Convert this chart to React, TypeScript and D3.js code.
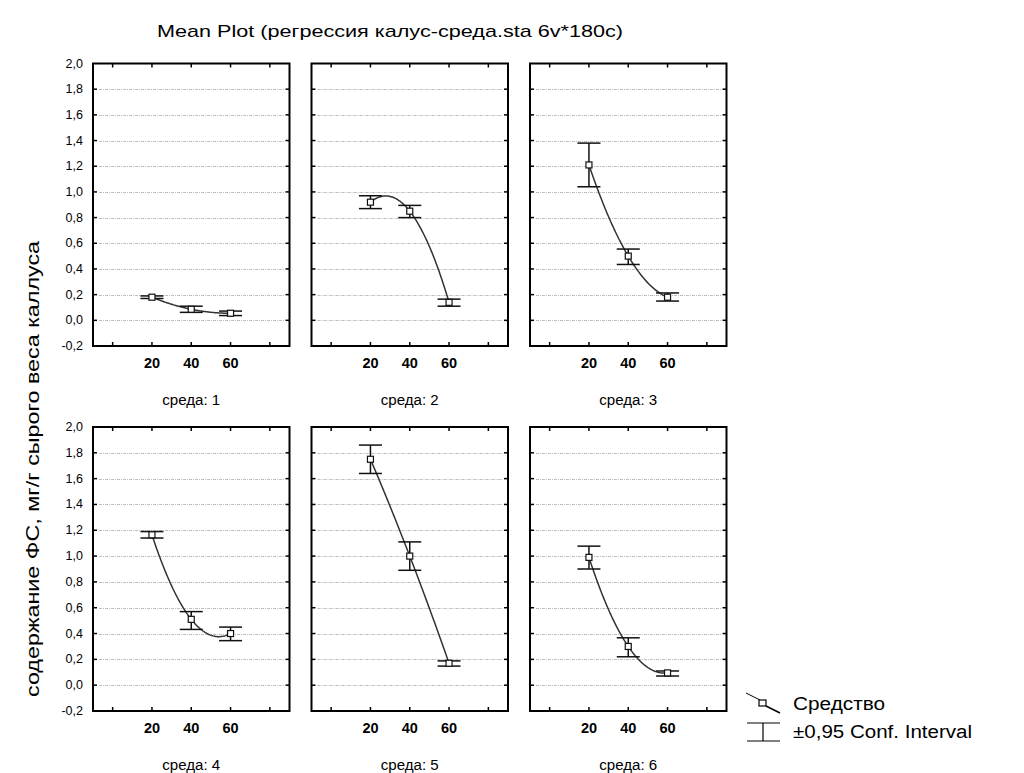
import React from "react";
import * as d3 from "d3";

const title = "Mean Plot (регрессия калус-среда.sta 6v*180c)";
const yTitle = "содержание ФС, мг/г сырого веса каллуса";
const panelLabels = ["среда: 1", "среда: 2", "среда: 3", "среда: 4", "среда: 5", "среда: 6"];
const xLevels = [20, 40, 60];
const xTicks = [0, 20, 40, 60, 80];
const xTickLabels = ["", "20", "40", "60", ""];
const yTicks = [-0.2, 0, 0.2, 0.4, 0.6, 0.8, 1.0, 1.2, 1.4, 1.6, 1.8, 2.0];
const means = [
  [0.18, 0.086, 0.055],
  [0.92, 0.85, 0.14],
  [1.21, 0.5, 0.18],
  [1.165, 0.51, 0.4],
  [1.75, 1.0, 0.17],
  [0.99, 0.3, 0.095],
];
const ciLow = [
  [0.17, 0.062, 0.037],
  [0.87, 0.8, 0.11],
  [1.04, 0.435, 0.15],
  [1.14, 0.432, 0.345],
  [1.64, 0.89, 0.148],
  [0.9, 0.22, 0.071],
];
const ciHigh = [
  [0.19, 0.11, 0.072],
  [0.97, 0.895, 0.165],
  [1.38, 0.555, 0.213],
  [1.19, 0.57, 0.45],
  [1.86, 1.11, 0.188],
  [1.077, 0.367, 0.11],
];
const legendLabels = ["Средство", "±0,95 Conf. Interval"];

const colX = [93, 311.5, 530];
const panelW = 196.5;
const rowY = [63.5, 427];
const rowH = [282.5, 284];
const FONT = "'Liberation Sans', Arial, sans-serif";

// quadratic (polynomial) fit through the three means, as in the original plot
function quadFit(xs: number[], ys: number[]) {
  return (x: number) => {
    let s = 0;
    for (let i = 0; i < xs.length; i++) {
      let t = ys[i];
      for (let j = 0; j < xs.length; j++) if (j !== i) t *= (x - xs[j]) / (xs[i] - xs[j]);
      s += t;
    }
    return s;
  };
}

function Panel({ idx }: { idx: number }) {
  const col = idx % 3;
  const row = Math.floor(idx / 3);
  const x0 = colX[col];
  const y0 = rowY[row];
  const h = rowH[row];
  const x = d3.scaleLinear().domain([-10, 90]).range([x0, x0 + panelW]);
  const y = d3.scaleLinear().domain([-0.2, 2.0]).range([y0 + h, y0]);
  const f = quadFit(xLevels, means[idx]);
  const samples = d3.range(xLevels[0], xLevels[2] + 0.01, 0.5);
  const line = d3
    .line<number>()
    .x((d) => x(d))
    .y((d) => y(f(d)));
  const tk = 4;
  const cap = 11.5;
  const cx = x0 + panelW / 2;
  return (
    <g>
      {yTicks
        .filter((v) => v > -0.15 && v < 1.95)
        .map((v) => (
          <line
            key={"g" + v}
            x1={x0 + 6}
            x2={x0 + panelW - 5}
            y1={Math.round(y(v)) + 0.5}
            y2={Math.round(y(v)) + 0.5}
            stroke="#bdbdbd"
            strokeWidth={1}
            strokeDasharray="3,1,1,1"
          />
        ))}
      {yTicks
        .filter((v) => v > -0.15 && v < 1.95)
        .map((v) => (
          <g key={"t" + v}>
            <line x1={x0} x2={x0 + tk} y1={y(v)} y2={y(v)} stroke="#000" strokeWidth={1.5} />
            <line x1={x0 + panelW - tk} x2={x0 + panelW} y1={y(v)} y2={y(v)} stroke="#000" strokeWidth={1.5} />
          </g>
        ))}
      {xTicks.map((v) => (
        <g key={"x" + v}>
          <line x1={x(v)} x2={x(v)} y1={y0} y2={y0 + tk} stroke="#000" strokeWidth={1.5} />
          <line x1={x(v)} x2={x(v)} y1={y0 + h - tk} y2={y0 + h} stroke="#000" strokeWidth={1.5} />
        </g>
      ))}
      <rect x={x0} y={y0} width={panelW} height={h} fill="none" stroke="#000" strokeWidth={2} />
      <path d={line(samples) || ""} fill="none" stroke="#333" strokeWidth={1.5} />
      {xLevels.map((lv, i) => (
        <g key={"e" + lv}>
          <line x1={x(lv)} x2={x(lv)} y1={y(ciHigh[idx][i])} y2={y(ciLow[idx][i])} stroke="#111" strokeWidth={1.5} />
          <line x1={x(lv) - cap} x2={x(lv) + cap} y1={y(ciHigh[idx][i])} y2={y(ciHigh[idx][i])} stroke="#111" strokeWidth={1.5} />
          <line x1={x(lv) - cap} x2={x(lv) + cap} y1={y(ciLow[idx][i])} y2={y(ciLow[idx][i])} stroke="#111" strokeWidth={1.5} />
          <rect x={x(lv) - 3} y={y(means[idx][i]) - 3} width={6} height={6} fill="#fff" stroke="#111" strokeWidth={1.2} />
        </g>
      ))}
      {xTicks.map((v, i) =>
        xTickLabels[i] ? (
          <text
            key={"l" + v}
            x={x(v)}
            y={y0 + h + 17}
            textAnchor="middle"
            dominantBaseline="central"
            fontFamily={FONT}
            fontSize={14.5}
            fontWeight="bold"
          >
            {xTickLabels[i]}
          </text>
        ) : null
      )}
      <text
        x={cx - 29}
        y={y0 + h + 54}
        dominantBaseline="central"
        fontFamily={FONT}
        fontSize={14}
        textLength={58}
        lengthAdjust="spacingAndGlyphs"
      >
        {panelLabels[idx]}
      </text>
      {col === 0 &&
        yTicks.map((v) => (
          <text
            key={"yl" + v}
            x={83}
            y={y(v)}
            textAnchor="end"
            dominantBaseline="central"
            fontFamily={FONT}
            fontSize={12.5}
          >
            {d3.format(".1f")(v).replace(".", ",").replace("−", "-")}
          </text>
        ))}
    </g>
  );
}

export default function App() {
  return (
    <svg
      width={1024}
      height={773}
      style={{ position: "absolute", left: 0, top: 0, background: "#fff" }}
    >
      <rect width={1024} height={773} fill="#fff" />
      <text x={157} y={37} fontFamily={FONT} fontSize={17} textLength={466} lengthAdjust="spacingAndGlyphs">
        {title}
      </text>
      <text
        transform="translate(33,469) rotate(-90)"
        textAnchor="middle"
        dominantBaseline="central"
        fontFamily={FONT}
        fontSize={18}
        textLength={456}
        lengthAdjust="spacingAndGlyphs"
      >
        {yTitle}
      </text>
      {means.map((_, i) => (
        <Panel key={i} idx={i} />
      ))}
      {/* legend */}
      <g>
        <polyline points="746,693 760,700" fill="none" stroke="#000" strokeWidth={1} />
        <polyline points="766,706 780,713" fill="none" stroke="#000" strokeWidth={1.5} />
        <rect x={759} y={700} width={7} height={6} fill="#fff" stroke="#000" strokeWidth={1.2} />
        <text x={793} y={704} dominantBaseline="central" fontFamily={FONT} fontSize={18} textLength={92} lengthAdjust="spacingAndGlyphs">
          {legendLabels[0]}
        </text>
        <line x1={747} x2={780} y1={723} y2={723} stroke="#000" strokeWidth={1.2} />
        <line x1={763} x2={763} y1={723} y2={741} stroke="#000" strokeWidth={1.2} />
        <line x1={747} x2={780} y1={741} y2={741} stroke="#000" strokeWidth={1.2} />
        <text x={793} y={732} dominantBaseline="central" fontFamily={FONT} fontSize={18} textLength={179} lengthAdjust="spacingAndGlyphs">
          {legendLabels[1]}
        </text>
      </g>
    </svg>
  );
}
